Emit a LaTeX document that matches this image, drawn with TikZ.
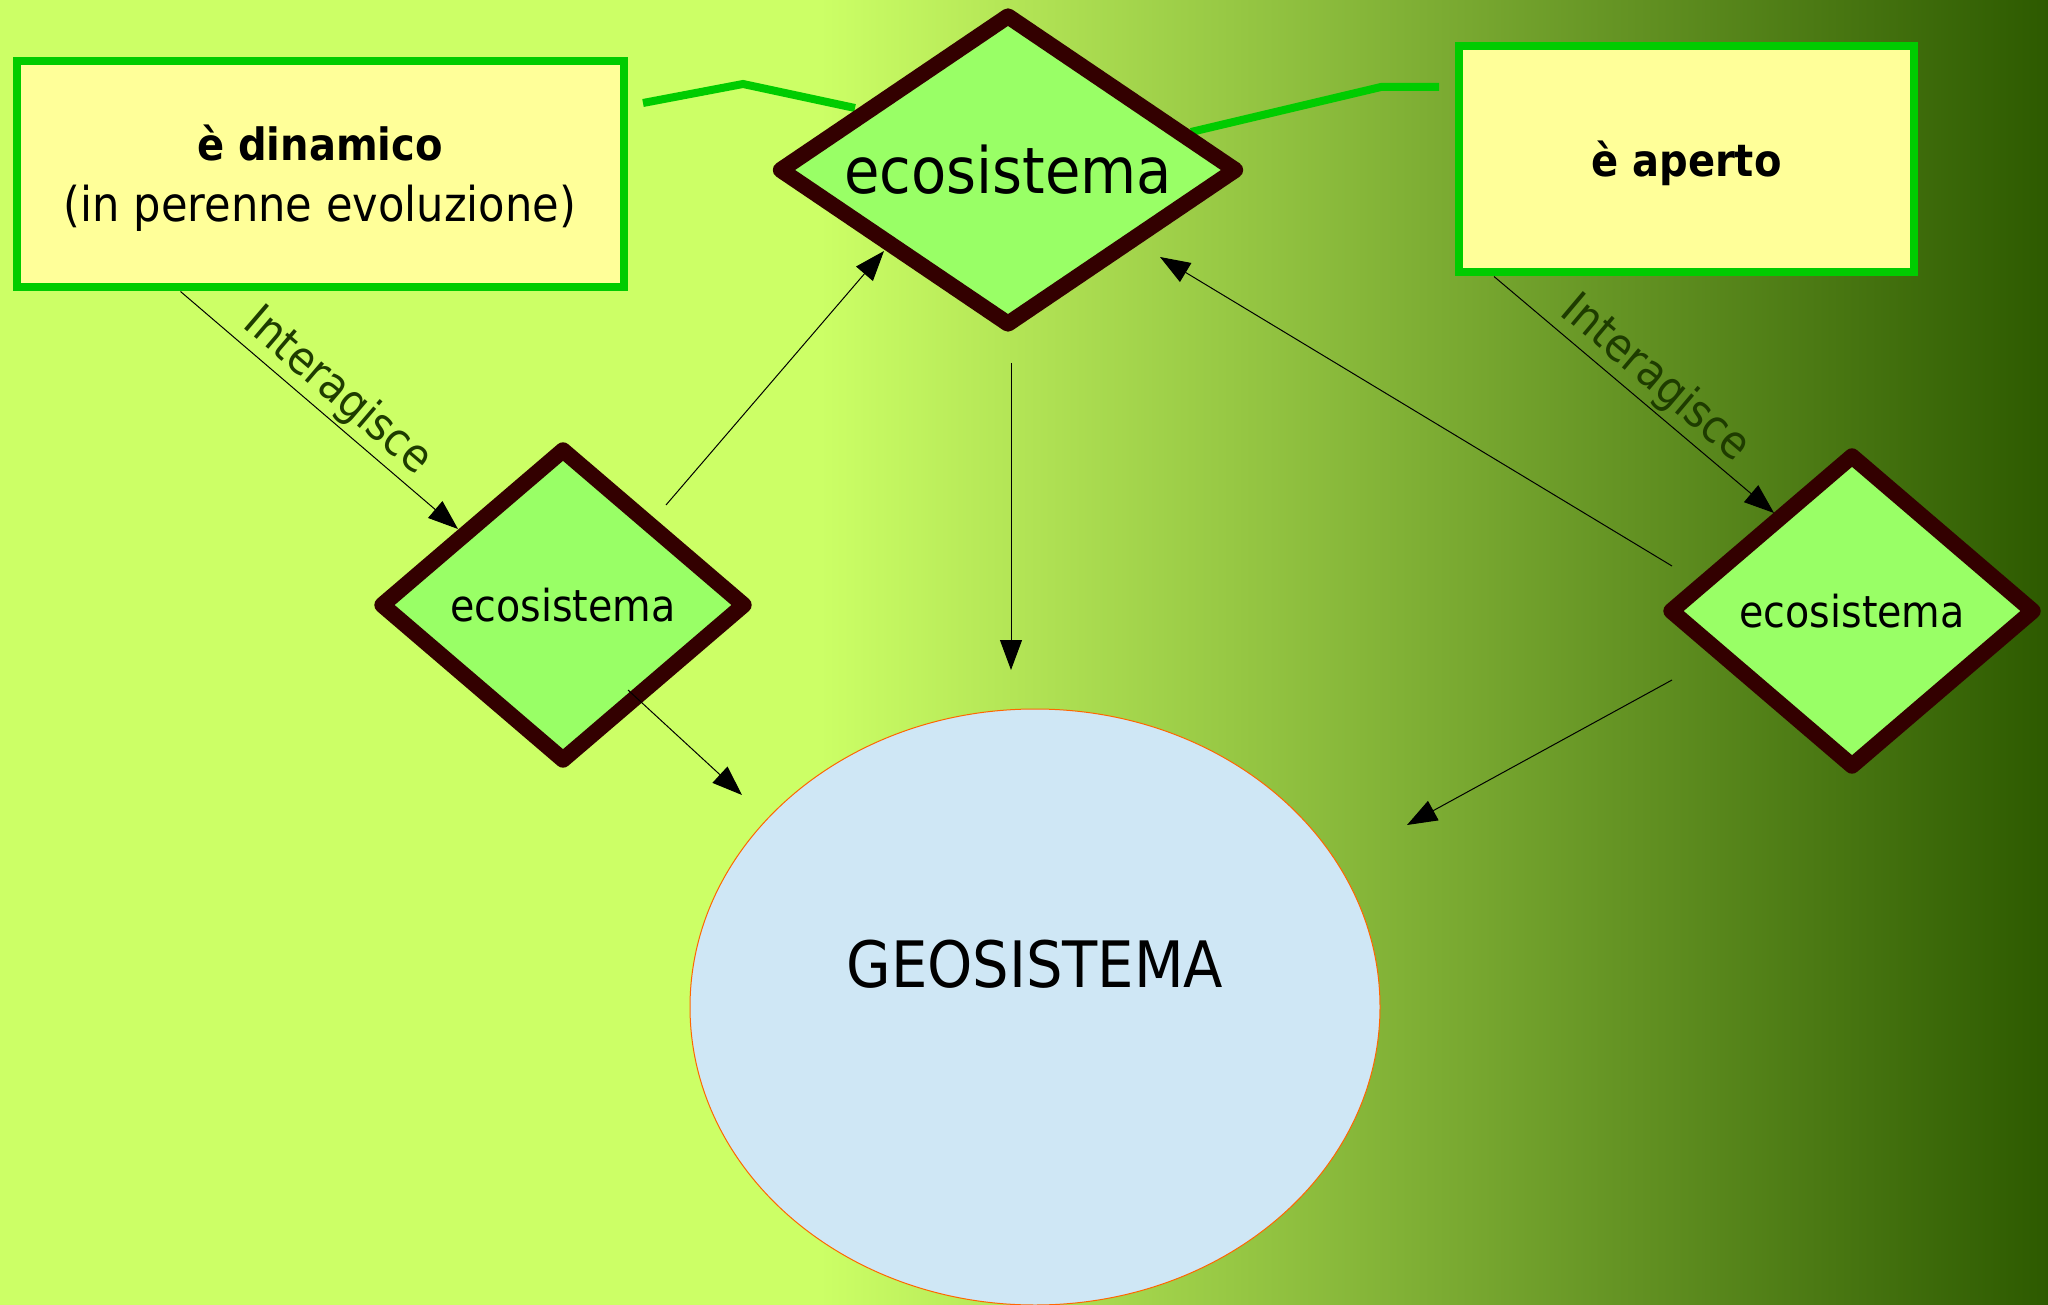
\documentclass[tikz,border=0pt]{standalone}
\usepackage{fontspec}
\setmainfont{DejaVu Sans Condensed}[BoldFont={DejaVu Sans Condensed Bold}]
\usetikzlibrary{shapes.geometric,arrows.meta,calc}
\pgfdeclarelayer{back}
\pgfsetlayers{back,main}

\definecolor{bgl}{RGB}{204,255,102}
\definecolor{bgr}{RGB}{45,90,0}
\definecolor{boxfill}{RGB}{255,255,153}
\definecolor{boxline}{RGB}{0,204,0}
\definecolor{dfill}{RGB}{153,255,102}
\definecolor{dline}{RGB}{51,0,0}
\definecolor{geofill}{RGB}{207,231,245}
\definecolor{geoline}{RGB}{255,102,0}
\definecolor{lbl}{RGB}{30,60,0}

\begin{document}
\begin{tikzpicture}[x=1pt,y=-1pt,
  infobox/.style={draw=boxline, line width=8pt, fill=boxfill, align=center,
    inner sep=0pt, font=\fontsize{48}{61}\selectfont},
  eco/.style={diamond, draw=dline, line width=16pt, line join=round,
    fill=dfill, inner sep=0pt},
  arr/.style={line width=1pt, -{Triangle[length=30pt,width=22pt]}},
  link/.style={draw=boxline, line width=8pt},
  lab/.style={sloped, above, text=lbl, font=\fontsize{46}{55}\selectfont, inner sep=3pt}
]
\useasboundingbox (0,0) rectangle (2048,1305);

% concept boxes (extra head room lowers the text a little)
\node[infobox, minimum width=607pt, minimum height=226pt] (lbox) at (320,174.5)
  {{\fontsize{44.5}{61}\selectfont\bfseries\raisebox{0pt}[\dimexpr\height+7pt\relax]{è dinamico}}\\(in perenne evoluzione)};
\node[infobox, minimum width=455pt, minimum height=226pt] (rbox) at (1686.5,159.5)
  {{\fontsize{44.5}{61}\selectfont\bfseries\raisebox{0pt}[\dimexpr\height+8pt\relax]{è aperto}}};

% ecosystems
\node[eco, aspect=1.49, minimum width=461pt, minimum height=314pt,
  font=\fontsize{64}{64}\selectfont] (td) at (1008,170) {ecosistema};
\node[eco, aspect=1.19, minimum width=368pt, minimum height=316pt,
  font=\fontsize{44}{44}\selectfont] (ld) at (563,605) {ecosistema};
\node[eco, aspect=1.19, minimum width=368pt, minimum height=316pt,
  font=\fontsize{44}{44}\selectfont] (rd) at (1852,611) {ecosistema};

% geosystem
\node[ellipse, draw=geoline, line width=1pt, fill=geofill,
  minimum width=690pt, minimum height=596pt] (geo) at (1035,1007) {};
\node[font=\fontsize{64}{64}\selectfont] (geotxt) at (1035,964) {GEOSISTEMA};

% background and links behind the shapes
\begin{pgfonlayer}{back}
  \fill[bgl] (0,0) rectangle (822,1305);
  \shade[left color=bgl, right color=bgr] (820,0) rectangle (2048,1305);
  \coordinate (lk1) at (743,84);
  \coordinate (lk2) at (1381,87);
  \draw[link] ([shift={(323,-71.5)}]lbox.center) -- (lk1) -- ([shift={(-153,-62)}]td.center);
  \draw[link] ([shift={(183,-38)}]td.center) -- (lk2) -- ([shift={(-247.5,-72.5)}]rbox.center);
\end{pgfonlayer}

% relations
\draw[arr] ([xshift=168pt]lbox.south west) -- node[lab, pos=0.505] {Interagisce}
  ([shift={(-105,-76)}]ld.center);
\draw[arr] ([xshift=39pt]rbox.south west) -- node[lab, pos=0.515] {Interagisce}
  ([shift={(-78,-98)}]rd.center);
\draw[arr] ([shift={(103,-100)}]ld.center) -- ([shift={(-124,81)}]td.center);
\draw[arr] ([shift={(-180,-45)}]rd.center) -- ([shift={(152,87)}]td.center);
\draw[arr] ([shift={(3,193)}]td.center) -- ([shift={(-24,-337)}]geo.center);
\draw[arr] ([shift={(65,85)}]ld.center) -- ([shift={(-293,-212)}]geo.center);
\draw[arr] ([shift={(-180,69)}]rd.center) -- ([shift={(372,-182)}]geo.center);
\end{tikzpicture}
\end{document}
